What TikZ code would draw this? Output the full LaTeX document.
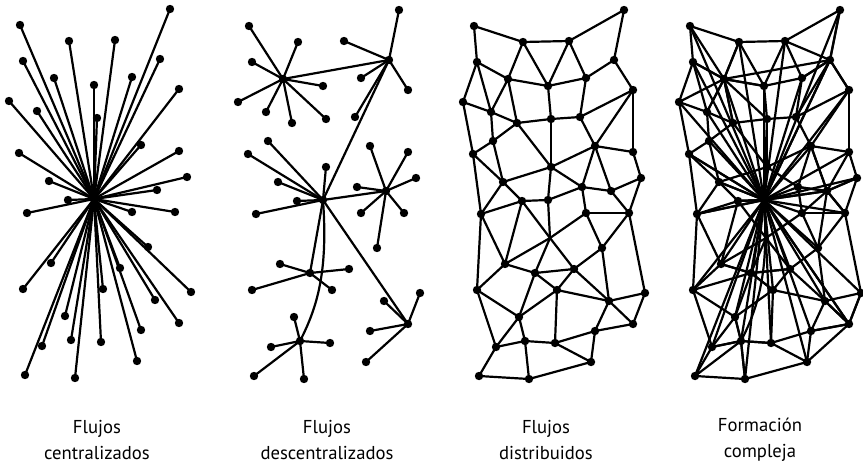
\documentclass[tikz,border=0pt]{standalone}
\usepackage{fontspec}
\setmainfont{PT Sans}

\tikzset{every picture/.style={line width=1.65pt}}
\tikzset{
  pt/.style={coordinate},
  caption/.style={align=center,font=\fontsize{14}{19.5}\selectfont}
}

% node positions (same for all four panels)
\def\netnodes{1/24/26,2/73/42,3/119/41,4/174/10,5/27/62,6/58/79,7/98/86,8/136/78,9/164/60,10/183/90,11/13/102,12/41/112,13/67/123,14/101/119,15/130/117,16/43/141,17/145/146,18/183/152,19/23/154,20/101/167,21/191/178,22/53/182,23/132/187,24/161/191,25/72/201,26/98/200,27/31/214,28/136/213,29/179/213,30/152/248,31/55/264,32/85/273,33/124/269,34/27/290,35/107/290,36/159/301,37/195/293,38/69/317,39/183/324,40/145/331,41/46/347,42/75/341,43/105/343,44/141/362,45/29/376,46/79/379}
\def\starleaves{1,2,3,4,5,6,7,8,9,10,11,12,14,17,18,19,21,22,24,25,27,28,29,30,31,33,34,35,36,37,38,39,40,41,42,43,44,45,46}
\def\hubedges{6/1,6/2,6/5,6/7,6/11,6/12,6/13,6/14,6/9,9/4,9/3,9/8,9/10,9/15,9/26,26/19,26/16,26/20,26/22,26/25,26/27,26/24,26/39,26/32,24/17,24/18,24/21,24/23,24/28,24/29,24/30,39/37,39/36,39/40,39/44,32/31,32/33,32/34,32/35,42/38,42/41,42/43,42/45,42/46}
\def\meshedges{1/2,1/5,2/3,3/4,4/9,2/6,2/7,3/7,3/8,9/8,9/10,5/6,5/11,5/12,6/7,7/8,6/12,6/13,7/14,8/15,10/15,10/18,10/17,11/12,12/13,13/14,14/15,11/19,12/16,13/16,13/20,14/20,15/17,16/19,16/22,19/22,19/27,17/18,17/20,17/23,17/24,18/21,20/22,20/23,20/26,21/24,21/29,22/25,22/27,23/24,23/26,23/28,24/29,25/26,25/27,28/29,28/30,29/30,27/31,25/31,27/34,30/33,30/36,29/37,31/34,31/32,32/33,32/35,32/38,33/35,33/36,34/38,34/41,35/36,35/38,35/43,36/37,36/39,36/40,37/39,38/41,38/42,39/40,40/43,40/44,41/42,41/45,42/43,42/46,43/44,44/46,45/46,x/25,x/26,x/28,x/31,x/32,x/33}

\begin{document}
\begin{tikzpicture}[x=0.75pt,y=0.75pt,yscale=-1,xscale=1]
\useasboundingbox (0,0) rectangle (863,467);

%Flujos centralizados
\begin{scope}[shift={(-4,-1)}]
\foreach \n/\x/\y in \netnodes \node[pt] (cen-\n) at (\x,\y) {};
\foreach \n in \starleaves \draw (cen-26) -- (cen-\n);
\foreach \n in \starleaves \fill (cen-\n) circle (4.2);
\fill (cen-26) circle (4.2);
\end{scope}

%Flujos descentralizados
\begin{scope}[shift={(225,0)}]
\foreach \n/\x/\y in \netnodes \node[pt] (dec-\n) at (\x,\y) {};
\foreach \a/\b in \hubedges \draw (dec-\a) -- (dec-\b);
\draw (dec-26) .. controls +(5,70) and +(18,-35) .. (dec-42);
\foreach \n/\x/\y in \netnodes \fill (dec-\n) circle (4.2);
\end{scope}

%Flujos distribuidos
\begin{scope}[shift={(450,0)}]
\foreach \n/\x/\y in \netnodes \node[pt] (dis-\n) at (\x,\y) {};
\node[pt] (dis-x) at (100,238) {};
\foreach \a/\b in \meshedges \draw (dis-\a) -- (dis-\b);
\foreach \n/\x/\y in \netnodes \fill (dis-\n) circle (4.2);
\end{scope}

%Formacion compleja
\begin{scope}[shift={(666,0)}]
\foreach \n/\x/\y in \netnodes \node[pt] (com-\n) at (\x,\y) {};
\node[pt] (com-x) at (100,238) {};
\foreach \a/\b in \meshedges \draw (com-\a) -- (com-\b);
\foreach \a/\b in \hubedges \draw (com-\a) -- (com-\b);
\foreach \n in \starleaves \draw (com-26) -- (com-\n);
\draw (com-26) .. controls +(5,70) and +(18,-35) .. (com-42);
\foreach \n/\x/\y in \netnodes \fill (com-\n) circle (4.2);
\end{scope}

% Text Node
\node[caption] (lab-cen) at (97,440) {Flujos\\centralizados};
% Text Node
\node[caption] (lab-dec) at (327,440) {Flujos\\descentralizados};
% Text Node
\node[caption] (lab-dis) at (546,440) {Flujos\\distribuidos};
% Text Node
\node[caption] (lab-com) at (760,440) {Formación\\compleja};

\end{tikzpicture}
\end{document}
